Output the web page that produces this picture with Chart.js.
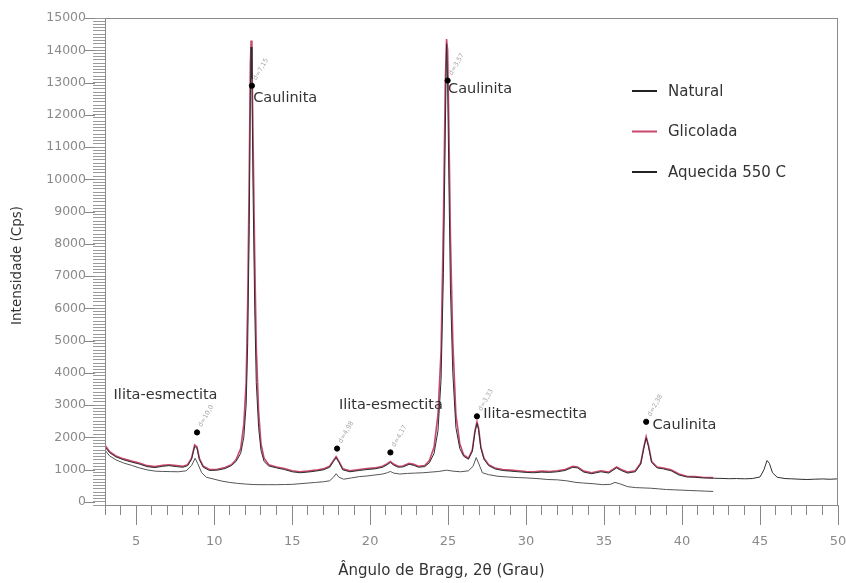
<!DOCTYPE html>
<html><head><meta charset="utf-8">
<script src="https://cdn.jsdelivr.net/npm/chart.js@4.4.0/dist/chart.umd.min.js"></script>
<style>html,body{margin:0;padding:0;background:#fff}#wrap{width:846px;height:583px}</style>
</head><body><div id="wrap"><canvas id="c" width="846" height="583"></canvas></div>
<script>
// ---- data (2θ in degrees, intensity in cps) ----
const seriesNames = ['Natural', 'Glicolada', 'Aquecida 550 C'];

const twoThetaGlic = [3.0,3.3,3.7,4.2,4.7,5.2,5.7,6.2,6.7,7.1,7.6,8.0,8.3,8.55,8.75,8.9,9.05,9.3,9.7,10.2,10.7,11.1,11.4,11.7,11.9,12.05,12.15,12.25,12.32,12.37,12.42,12.5,12.6,12.7,12.85,13.0,13.2,13.5,14.0,14.5,15.0,15.5,16.0,16.5,17.0,17.4,17.65,17.82,18.0,18.25,18.7,19.3,19.8,20.3,20.8,21.1,21.3,21.5,21.8,22.1,22.5,22.8,23.1,23.5,23.8,24.1,24.35,24.55,24.7,24.82,24.9,24.97,25.05,25.15,25.3,25.5,25.75,26.0,26.3,26.55,26.72,26.85,26.95,27.1,27.3,27.6,28.0,28.5,29.0,29.5,30.0,30.5,31.0,31.5,32.0,32.5,33.0,33.3,33.7,34.2,34.8,35.3,35.8,36.1,36.5,37.0,37.35,37.55,37.7,37.85,38.05,38.4,38.8,39.3,39.8,40.3,40.8,41.3,42.0];
const intensityGlic = [1750,1550,1420,1330,1260,1200,1120,1090,1130,1150,1120,1100,1150,1350,1760,1700,1350,1100,1000,1010,1060,1150,1300,1650,2400,3700,6200,10200,13600,14300,13900,11000,7600,4800,2800,1800,1350,1150,1080,1030,960,930,950,980,1020,1100,1280,1400,1250,1020,960,1000,1030,1050,1100,1180,1250,1170,1100,1110,1190,1160,1100,1120,1280,1700,2700,4700,8700,13000,14350,14000,11600,8200,5000,2700,1800,1450,1350,1600,2200,2480,2300,1700,1350,1150,1050,1000,980,960,940,930,950,940,960,1000,1100,1080,950,900,960,920,1080,1000,920,960,1200,1700,2020,1750,1250,1080,1050,990,860,790,780,760,750];

const twoThetaNat = [3.0,3.3,3.7,4.2,4.7,5.2,5.7,6.2,6.7,7.1,7.6,8.0,8.3,8.55,8.75,8.9,9.05,9.3,9.7,10.2,10.7,11.1,11.4,11.7,11.9,12.05,12.15,12.25,12.32,12.37,12.42,12.5,12.6,12.7,12.85,13.0,13.2,13.5,14.0,14.5,15.0,15.5,16.0,16.5,17.0,17.4,17.65,17.82,18.0,18.25,18.7,19.3,19.8,20.3,20.8,21.1,21.3,21.5,21.8,22.1,22.5,22.8,23.1,23.5,23.8,24.1,24.35,24.55,24.7,24.82,24.9,24.97,25.05,25.15,25.3,25.5,25.75,26.0,26.3,26.55,26.72,26.85,26.95,27.1,27.3,27.6,28.0,28.5,29.0,29.5,30.0,30.5,31.0,31.5,32.0,32.5,33.0,33.3,33.7,34.2,34.8,35.3,35.8,36.1,36.5,37.0,37.35,37.55,37.7,37.85,38.05,38.4,38.8,39.3,39.8,40.3,40.8,41.3,42.0,42.5,43.0,43.5,44.0,44.5,45.0,45.25,45.45,45.6,45.8,46.1,46.6,47.0,47.5,48.0,48.5,49.0,49.5,50.0];
const intensityNat = [1700,1520,1390,1300,1230,1170,1090,1060,1100,1120,1090,1070,1120,1320,1720,1660,1310,1070,970,980,1030,1120,1250,1500,2000,3000,4900,8600,12600,14100,13100,9400,6000,3700,2300,1600,1250,1110,1050,1000,930,900,920,950,990,1070,1250,1370,1220,990,930,970,1000,1020,1070,1150,1220,1140,1070,1080,1160,1130,1070,1090,1210,1500,2200,3800,7100,11500,14200,13000,10000,6600,4000,2300,1650,1410,1320,1560,2150,2430,2250,1660,1320,1120,1020,970,950,930,910,900,920,910,930,970,1070,1050,920,870,930,890,1050,970,890,930,1170,1660,1980,1710,1220,1050,1020,960,830,770,760,740,730,725,715,720,712,720,770,990,1280,1190,900,760,720,712,700,690,700,708,698,712];

const twoThetaAq = [3.0,3.3,3.7,4.2,4.7,5.2,5.7,6.2,6.7,7.2,7.7,8.2,8.55,8.78,8.95,9.2,9.5,10.0,10.5,11.0,11.5,12.0,12.5,13.0,13.5,14.0,14.5,15.0,15.5,16.0,16.5,17.0,17.4,17.65,17.82,18.0,18.3,18.8,19.3,19.8,20.3,20.8,21.1,21.3,21.5,21.9,22.4,22.9,23.4,23.9,24.4,24.9,25.3,25.8,26.3,26.6,26.8,26.95,27.2,27.6,28.2,28.8,29.5,30.0,30.7,31.4,32.0,32.6,33.2,33.7,34.3,34.9,35.4,35.7,36.0,36.5,37.0,37.5,38.0,38.5,39.0,39.5,40.0,40.5,41.0,41.5,42.0];
const intensityAq = [1600,1420,1300,1200,1130,1050,990,950,940,935,930,960,1120,1350,1180,900,760,700,640,600,570,550,535,530,530,530,535,540,560,580,600,620,650,760,870,760,700,740,780,800,830,860,900,940,890,860,880,890,900,920,940,980,950,930,960,1100,1370,1200,900,840,790,770,750,740,720,690,680,650,600,580,560,530,540,600,560,470,440,430,420,400,380,370,360,350,340,330,320];

// peak markers and labels (2θ, intensity)
const markerX = [8.9, 12.42, 17.88, 21.3, 24.97, 26.85, 37.7];
const markerY = [2150, 12900, 1650, 1530, 13060, 2650, 2480];
const dSpacing = ['d=10,0', 'd=7,15', 'd=4,98', 'd=4,17', 'd=3,57', 'd=3,33', 'd=2,38'];
const peakNames = ['Ilita-esmectita', 'Caulinita', 'Ilita-esmectita', 'Caulinita', 'Ilita-esmectita', 'Caulinita'];
const peakNameX = [3.55, 12.5, 18.0, 25.0, 27.25, 38.1];
const peakNameY = [3300, 12500, 3000, 12800, 2700, 2380];

const xMin = 3, xMax = 50, xStep = 1, xLabelEvery = 5;
const yMin = -100, yMax = 15000, yStep = 100, yLabelEvery = 1000;

const colors = ['#2e2e2e', 'rgb(201,72,108)', '#555555'];

function pts(xs, ys) { return xs.map((x, i) => ({x: x, y: ys[i]})); }

const FONT = '"DejaVu Sans", "Liberation Sans", sans-serif';

const decorPlugin = {
  id: 'decor',
  afterDraw(chart) {
    const ctx = chart.ctx;
    const a = chart.chartArea;
    const xs = chart.scales.x, ys = chart.scales.y;
    ctx.save();
    // frame
    ctx.strokeStyle = '#8a8a8a';
    ctx.lineWidth = 1;
    ctx.strokeRect(a.left + 0.5, a.top + 0.5, a.right - a.left - 1, a.bottom - a.top);
    // longer major ticks
    ctx.strokeStyle = '#888';
    ctx.beginPath();
    xs.ticks.forEach(t => {
      if (t.value % xLabelEvery === 0) {
        const px = Math.round(xs.getPixelForValue(t.value)) + 0.5;
        ctx.moveTo(px, a.bottom + 8); ctx.lineTo(px, a.bottom + 20);
      }
    });
    ys.ticks.forEach(t => {
      if (t.value % yLabelEvery === 0) {
        const py = Math.round(ys.getPixelForValue(t.value)) + 0.5;
        ctx.moveTo(a.left - 20, py); ctx.lineTo(a.left - 10, py);
      }
    });
    ctx.stroke();

    // peak name labels
    ctx.fillStyle = '#333';
    ctx.font = '14.5px ' + FONT;
    ctx.textAlign = 'left';
    ctx.textBaseline = 'middle';
    peakNames.forEach((n, i) => {
      ctx.fillText(n, xs.getPixelForValue(peakNameX[i]), ys.getPixelForValue(peakNameY[i]));
    });
    // d-spacing tiny rotated labels
    ctx.fillStyle = '#a8a8a8';
    ctx.font = '6.5px ' + FONT;
    dSpacing.forEach((d, i) => {
      const px = xs.getPixelForValue(markerX[i]) + 3;
      const py = ys.getPixelForValue(markerY[i]) - 6;
      ctx.save();
      ctx.translate(px, py);
      ctx.rotate(-Math.PI / 3);
      ctx.fillText(d, 0, 0);
      ctx.restore();
    });

    // legend
    const lx = a.right - 206, ly0 = a.top + 73, gap = 40.5;
    const legendLine = ['#222', 'rgb(201,72,108)', '#222'];
    ctx.font = '15px ' + FONT;
    ctx.fillStyle = '#333';
    chart.data.datasets.slice(0, 3).forEach((ds, i) => {
      const y = ly0 + i * gap;
      ctx.strokeStyle = legendLine[i];
      ctx.lineWidth = 2;
      ctx.beginPath(); ctx.moveTo(lx, y); ctx.lineTo(lx + 25, y); ctx.stroke();
      ctx.fillText(ds.label, lx + 36, y + 1);
    });

    // axis titles
    ctx.fillStyle = '#333';
    ctx.font = '15px ' + FONT;
    ctx.textAlign = 'center';
    ctx.fillText('Ângulo de Bragg, 2θ (Grau)', a.left + (a.right - a.left) * 0.459, chart.height - 12);
    ctx.save();
    ctx.translate(17, a.top + (a.bottom - a.top) * 0.508);
    ctx.rotate(-Math.PI / 2);
    ctx.font = '13.5px ' + FONT;
    ctx.fillText('Intensidade (Cps)', 0, 0);
    ctx.restore();
    ctx.restore();
  }
};

new Chart(document.getElementById('c'), {
  type: 'scatter',
  data: {
    datasets: [
      {label: seriesNames[0], data: pts(twoThetaNat, intensityNat), showLine: true, borderColor: colors[0], borderWidth: 1, pointRadius: 0, order: 1},
      {label: seriesNames[1], data: pts(twoThetaGlic, intensityGlic), showLine: true, borderColor: colors[1], borderWidth: 1.6, pointRadius: 0, order: 2},
      {label: seriesNames[2], data: pts(twoThetaAq, intensityAq), showLine: true, borderColor: colors[2], borderWidth: 1, pointRadius: 0, order: 3},
      {label: 'picos', data: pts(markerX, markerY), showLine: false, pointRadius: 2.6, pointBackgroundColor: '#000', pointBorderColor: '#000', order: 0}
    ]
  },
  options: {
    responsive: false,
    animation: false,
    events: [],
    layout: {padding: {left: 0, right: 8, top: 18, bottom: 0}},
    plugins: {legend: {display: false}, tooltip: {enabled: false}},
    scales: {
      x: {
        type: 'linear', min: xMin, max: xMax,
        afterFit(s) { s.height = 78; s.paddingLeft = 0; s.paddingRight = 0; },
        ticks: {stepSize: xStep, autoSkip: false, maxRotation: 0, padding: 19, color: '#8a8a8a',
                font: {family: FONT, size: 13},
                callback: v => (v % xLabelEvery === 0 ? String(v) : '')},
        grid: {drawOnChartArea: false, tickLength: 10, color: '#888'},
        border: {display: true, color: '#8a8a8a'}
      },
      y: {
        min: yMin, max: yMax,
        afterFit(s) { s.width = 105; s.paddingTop = 0; s.paddingBottom = 0; },
        ticks: {stepSize: yStep, autoSkip: false, padding: 7, color: '#8a8a8a',
                font: {family: FONT, size: 12.5},
                callback: v => (v % yLabelEvery === 0 ? String(v) : '')},
        grid: {drawOnChartArea: false, tickLength: 12, color: '#9a9a9a'},
        border: {display: true, color: '#8a8a8a'}
      }
    }
  },
  plugins: [decorPlugin]
});
</script>
</body></html>
